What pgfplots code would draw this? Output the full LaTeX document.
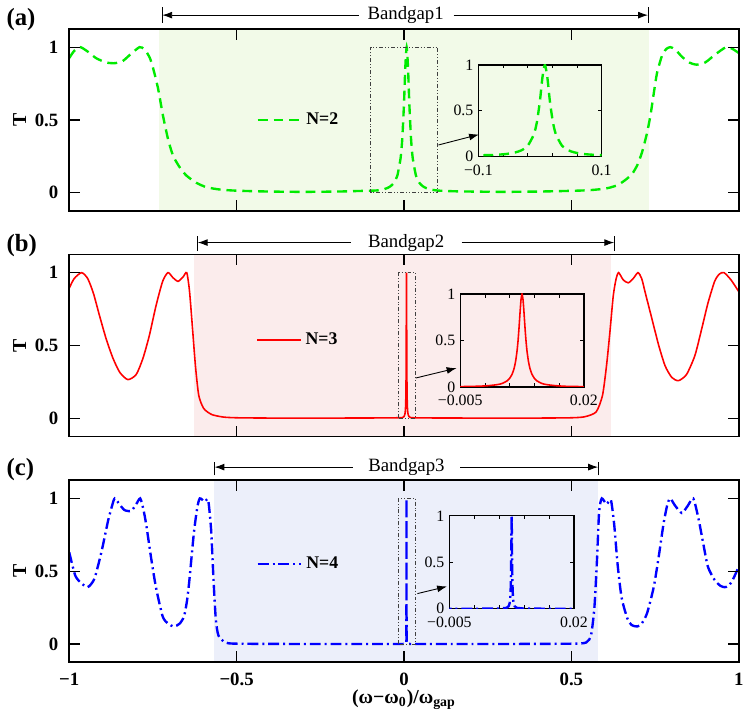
\documentclass[border=0pt]{standalone}
\usepackage{fontspec}
\setmainfont{Liberation Serif}
\usepackage{pgfplots}
\pgfplotsset{compat=1.18}
\usepackage{pgfplotstable}
\usetikzlibrary{arrows.meta}

\definecolor{gA}{RGB}{0,235,0}
\definecolor{shA}{RGB}{242,250,232}
\definecolor{shB}{RGB}{251,236,236}
\definecolor{shC}{RGB}{236,239,250}

\pgfplotstableread{
x y
-1.0 0.925
-0.985 0.975
-0.967 1.0
-0.945 0.97
-0.92 0.925
-0.89 0.895
-0.864 0.89
-0.84 0.905
-0.815 0.955
-0.79 1.0
-0.775 0.985
-0.76 0.93
-0.75 0.86
-0.735 0.72
-0.72 0.53
-0.705 0.37
-0.69 0.255
-0.67 0.175
-0.65 0.118
-0.62 0.068
-0.59 0.038
-0.55 0.022
-0.5 0.014
-0.4 0.008
-0.3 0.006
-0.2 0.008
-0.15 0.011
-0.1 0.014
-0.08 0.016
-0.06 0.024
-0.05 0.032
-0.04 0.045
-0.03 0.068
-0.02 0.116
-0.01 0.24
-0.005 0.375
0 0.61
0.004 0.862
0.008 1.0
0.012 0.862
0.016 0.61
0.021 0.375
0.026 0.24
0.036 0.116
0.046 0.068
0.056 0.045
0.066 0.032
0.076 0.024
0.1 0.015
0.15 0.01
0.2 0.008
0.3 0.006
0.4 0.008
0.5 0.013
0.55 0.017
0.59 0.025
0.613 0.034
0.635 0.05
0.652 0.072
0.668 0.1
0.682 0.13
0.697 0.19
0.711 0.277
0.725 0.4
0.736 0.527
0.746 0.68
0.756 0.823
0.772 0.95
0.785 0.99
0.796 1.0
0.81 0.985
0.83 0.935
0.852 0.895
0.874 0.88
0.9 0.895
0.93 0.95
0.962 1.0
0.98 0.99
1.0 0.96
}\dataA

\pgfplotstableread{
x y
-1.0 0.893
-0.985 0.96
-0.963 1.0
-0.945 0.96
-0.928 0.86
-0.909 0.70
-0.889 0.54
-0.869 0.41
-0.849 0.315
-0.825 0.265
-0.80 0.30
-0.78 0.41
-0.761 0.565
-0.741 0.77
-0.721 0.94
-0.705 1.0
-0.69 0.965
-0.675 0.94
-0.66 0.97
-0.649 1.0
-0.641 0.88
-0.633 0.655
-0.623 0.36
-0.613 0.156
-0.598 0.066
-0.574 0.025
-0.54 0.008
-0.5 0.003
-0.4 0.001
-0.2 0.001
-0.05 0.002
-0.02 0.003
-0.005 0.004
0 0.011
0.0025 0.025
0.0035 0.038
0.0045 0.066
0.005 0.093
0.0055 0.138
0.0059 0.2
0.0062 0.275
0.0065 0.39
0.0067 0.5
0.0069 0.64
0.0071 0.8
0.0073 0.941
0.0075 1.0
0.0077 0.941
0.0079 0.8
0.0081 0.64
0.0083 0.5
0.0085 0.39
0.0088 0.275
0.0091 0.2
0.0095 0.138
0.01 0.093
0.0105 0.066
0.0115 0.038
0.0125 0.025
0.015 0.011
0.02 0.004
0.05 0.002
0.2 0.001
0.4 0.001
0.5 0.003
0.54 0.01
0.574 0.043
0.593 0.156
0.605 0.36
0.615 0.587
0.625 0.837
0.633 0.95
0.641 1.0
0.655 0.95
0.670 0.93
0.685 0.96
0.699 1.0
0.71 0.96
0.721 0.86
0.741 0.68
0.761 0.50
0.780 0.36
0.80 0.28
0.82 0.258
0.844 0.30
0.869 0.43
0.889 0.61
0.908 0.79
0.928 0.94
0.942 0.99
0.956 1.0
0.977 0.95
1.0 0.87
}\dataB

\pgfplotstableread{
x y
-1.0 0.63
-0.982 0.47
-0.963 0.415
-0.946 0.39
-0.935 0.41
-0.923 0.46
-0.903 0.64
-0.884 0.846
-0.872 0.95
-0.864 1.0
-0.85 0.96
-0.835 0.92
-0.815 0.914
-0.80 0.96
-0.788 1.0
-0.779 0.93
-0.770 0.82
-0.756 0.60
-0.741 0.39
-0.721 0.19
-0.705 0.14
-0.687 0.12
-0.670 0.14
-0.657 0.19
-0.648 0.30
-0.641 0.44
-0.628 0.755
-0.618 0.93
-0.610 1.0
-0.595 0.977
-0.585 0.99
-0.576 0.78
-0.569 0.44
-0.562 0.166
-0.554 0.057
-0.534 0.011
-0.5 0.002
-0.3 0.0
-0.05 0.0
0 0.0003
0.005 0.002
0.0065 0.01
0.0069 0.027
0.0071 0.059
0.0072 0.1
0.0073 0.2
0.00735 0.31
0.0074 0.5
0.00745 0.8
0.0075 1.0
0.00755 0.8
0.0076 0.5
0.00765 0.31
0.0077 0.2
0.0078 0.1
0.0079 0.059
0.0081 0.027
0.0085 0.01
0.01 0.002
0.015 0.0003
0.05 0.0
0.3 0.0
0.5 0.002
0.544 0.01
0.559 0.063
0.569 0.256
0.577 0.596
0.583 0.91
0.591 1.0
0.605 0.96
0.618 0.99
0.628 0.82
0.638 0.55
0.650 0.32
0.667 0.177
0.68 0.13
0.697 0.12
0.71 0.14
0.726 0.21
0.746 0.39
0.761 0.60
0.775 0.82
0.786 0.95
0.795 1.0
0.81 0.95
0.83 0.90
0.848 0.95
0.864 1.0
0.879 0.87
0.894 0.69
0.908 0.53
0.928 0.44
0.945 0.40
0.958 0.39
0.97 0.40
0.982 0.44
1.0 0.53
}\dataC

\pgfplotsset{
  legend image code/.code={\draw[#1] (0pt,0pt) -- (22pt,0pt);},
  mainax/.style={
    scale only axis, width=338.5pt, height=92pt,
    xmin=-1, xmax=1, ymin=-0.125, ymax=1.125,
    enlargelimits=false, clip=false, axis on top,
    xtick={-1,-0.5,0,0.5,1}, ytick={0,0.5,1}, yticklabels={0,0.5,1},
    tick align=inside, major tick length=5.5pt,
    every tick/.style={black, line width=0.6pt},
    axis line style={line width=0.9pt},
    tick label style={font=\bfseries\fontsize{9.5}{11}\selectfont},
    yticklabel style={xshift=-2pt},
    ylabel={T},
    ylabel style={font=\bfseries\fontsize{10}{12}\selectfont, at={(axis description cs:-0.074,0.5)}, anchor=center},
    legend style={draw=none, fill=none, inner sep=0pt, anchor=west,
      font=\bfseries\fontsize{9}{11}\selectfont},
  },
  insetax/.style={
    scale only axis, ymin=0, ymax=1, enlargelimits=false,
    scaled x ticks=false, scaled y ticks=false,
    ytick={0,0.5,1}, yticklabels={0,0.5,1},
    tick align=inside, major tick length=1.8pt,
    every tick/.style={black, line width=0.4pt},
    axis line style={line width=0.7pt},
    tick label style={font=\fontsize{8}{9}\selectfont},
    xticklabel style={yshift=-0.5pt},
    yticklabel style={xshift=1pt},
  },
}

\tikzset{
  rectst/.style={line width=0.4pt, black!75, dash pattern=on 2pt off 1pt on 0.5pt off 1pt on 0.5pt off 1pt},
  conn/.style={line width=0.45pt, -{Latex[length=5pt,width=3.5pt]}},
  bgarrow/.style={line width=0.45pt},
  greendash/.style={gA, line width=1.2pt, dash pattern=on 5pt off 3pt},
  bluedd/.style={blue, line width=1.2pt, dash pattern=on 5.5pt off 2pt on 1pt off 2pt},
  sm/.style={smooth, tension=0.4},
}

\begin{document}
\begin{tikzpicture}
\path (0,0) rectangle (375pt,355.5pt);

% ---------- (a) ----------
\begin{axis}[mainax, at={(34.5pt,252.5pt)}, anchor=south west,
  xticklabels={,,,,},
  legend style={at={(axis cs:-0.4417,0.5)}}]
\fill[shA] (axis cs:-0.733,-0.125) rectangle (axis cs:0.733,1.125);
\addplot[greendash, sm] table {\dataA};
\addlegendentry{N=2}
\draw[rectst] (axis cs:-0.1,0) rectangle (axis cs:0.1,1);
\draw[conn] (axis cs:0.103,0.328) -- (axis cs:0.224,0.40);
\draw[bgarrow, {Latex[length=5pt,width=3.5pt]}-] (axis cs:-0.722,1.22) -- (axis cs:-0.135,1.22);
\draw[bgarrow, -{Latex[length=5pt,width=3.5pt]}] (axis cs:0.148,1.22) -- (axis cs:0.729,1.22);
\draw[bgarrow] (axis cs:-0.722,1.166) -- (axis cs:-0.722,1.274);
\draw[bgarrow] (axis cs:0.729,1.166) -- (axis cs:0.729,1.274);
\node[font=\fontsize{9.5}{11}\selectfont] at (axis cs:0.005,1.22) {Bandgap1};
\node[anchor=west, font=\bfseries\fontsize{12.5}{14}\selectfont] at (axis description cs:-0.104,1.054) {(a)};
\end{axis}

\begin{axis}[insetax, at={(241.35pt,280pt)}, anchor=south west, width=62.3pt, height=46.35pt,
  xmin=-0.1, xmax=0.1, xtick={-0.1,-0.06,-0.02,0.02,0.06,0.1}, xticklabels={−0.1,,,,,0.1}]
\addplot[greendash, sm] table {\dataA};
\end{axis}

% ---------- (b) ----------
\begin{axis}[mainax, at={(34.5pt,138.5pt)}, anchor=south west,
  xticklabels={,,,,},
  legend style={at={(axis cs:-0.4417,0.536)}}]
\fill[shB] (axis cs:-0.628,-0.125) rectangle (axis cs:0.619,1.125);
\addplot[red, line width=0.8pt, sm] table {\dataB};
\addlegendentry{N=3}
\draw[rectst] (axis cs:-0.0154,0) rectangle (axis cs:0.0349,1);
\draw[conn] (axis cs:0.035,0.276) -- (axis cs:0.157,0.344);
\draw[bgarrow, {Latex[length=5pt,width=3.5pt]}-] (axis cs:-0.616,1.2065) -- (axis cs:-0.158,1.2065);
\draw[bgarrow, -{Latex[length=5pt,width=3.5pt]}] (axis cs:0.172,1.2065) -- (axis cs:0.628,1.2065);
\draw[bgarrow] (axis cs:-0.616,1.147) -- (axis cs:-0.616,1.249);
\draw[bgarrow] (axis cs:0.628,1.147) -- (axis cs:0.628,1.249);
\node[font=\fontsize{9.5}{11}\selectfont] at (axis cs:0.0065,1.2065) {Bandgap2};
\node[anchor=west, font=\bfseries\fontsize{12.5}{14}\selectfont] at (axis description cs:-0.104,1.051) {(b)};
\end{axis}

\begin{axis}[insetax, at={(232.15pt,163.5pt)}, anchor=south west, width=62.5pt, height=47pt,
  xmin=-0.005, xmax=0.02, xtick={-0.005,0,0.005,0.01,0.015,0.02}, xticklabels={−0.005,,,,,0.02}]
\addplot[red, line width=0.8pt, sm] table {\dataB};
\end{axis}

% ---------- (c) ----------
\begin{axis}[mainax, at={(34.5pt,24.35pt)}, anchor=south west,
  xticklabels={−1,−0.5,0,0.5,1},
  xticklabel style={yshift=-2pt},
  xlabel={(ω−ω\textsubscript{0})/ω\textsubscript{gap}},
  xlabel style={font=\bfseries\fontsize{10}{12}\selectfont, at={(axis description cs:0.5,-0.205)}, anchor=center},
  legend style={at={(axis cs:-0.4417,0.55)}}]
\fill[shC] (axis cs:-0.569,-0.125) rectangle (axis cs:0.58,1.125);
\addplot[bluedd, sm] table {\dataC};
\addlegendentry{N=4}
\draw[rectst] (axis cs:-0.017,0) rectangle (axis cs:0.035,1);
\draw[conn] (axis cs:0.04,0.346) -- (axis cs:0.1285,0.395);
\draw[bgarrow, {Latex[length=5pt,width=3.5pt]}-] (axis cs:-0.566,1.215) -- (axis cs:-0.153,1.215);
\draw[bgarrow, -{Latex[length=5pt,width=3.5pt]}] (axis cs:0.168,1.215) -- (axis cs:0.58,1.215);
\draw[bgarrow] (axis cs:-0.566,1.159) -- (axis cs:-0.566,1.249);
\draw[bgarrow] (axis cs:0.58,1.159) -- (axis cs:0.58,1.249);
\node[font=\fontsize{9.5}{11}\selectfont] at (axis cs:0.0074,1.215) {Bandgap3};
\node[anchor=west, font=\bfseries\fontsize{12.5}{14}\selectfont] at (axis description cs:-0.104,1.056) {(c)};
\end{axis}

\begin{axis}[insetax, at={(226.65pt,51.35pt)}, anchor=south west, width=63pt, height=47pt,
  xmin=-0.005, xmax=0.02, xtick={-0.005,0,0.005,0.01,0.015,0.02}, xticklabels={−0.005,,,,,0.02}]
\addplot[bluedd] table {\dataC};
\end{axis}

\end{tikzpicture}
\end{document}
